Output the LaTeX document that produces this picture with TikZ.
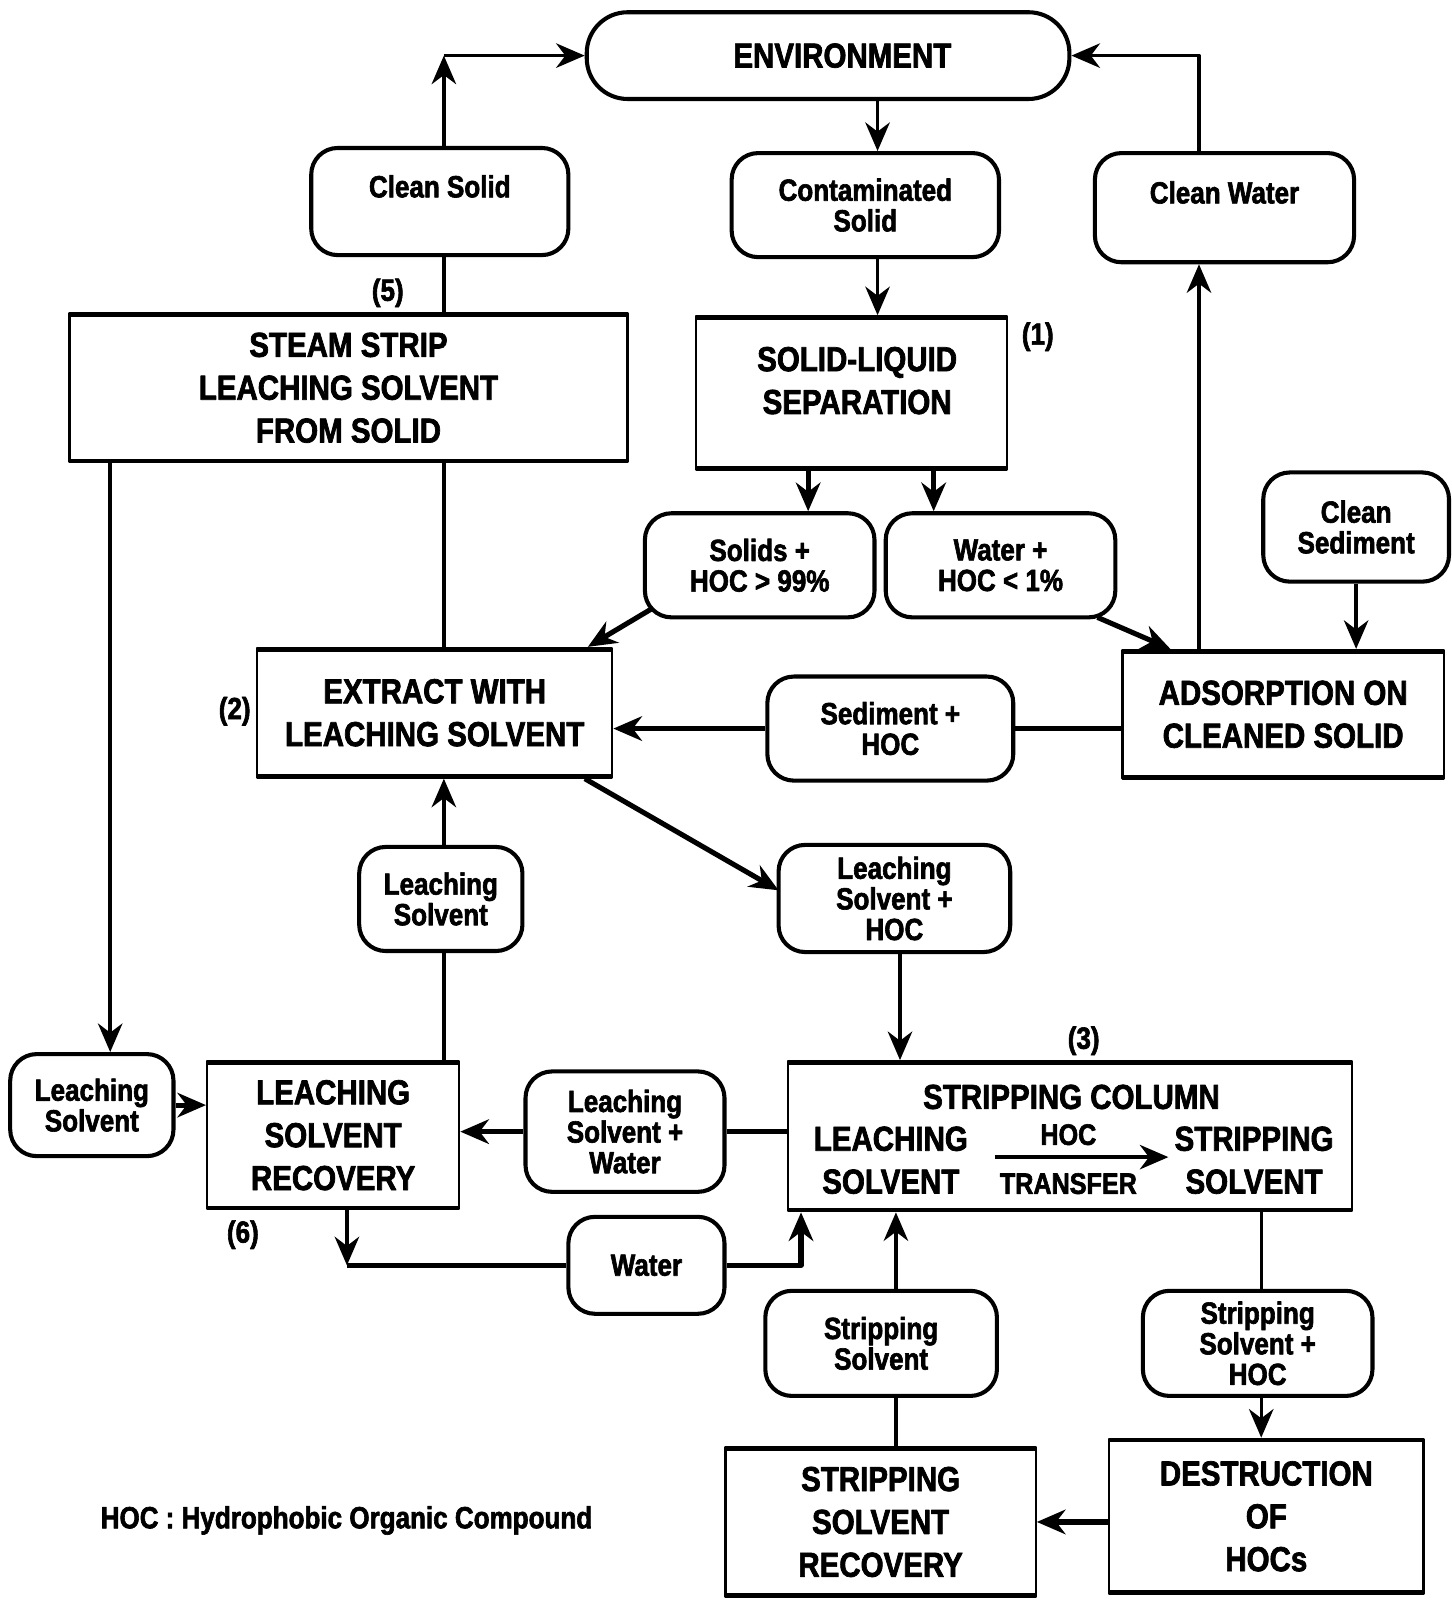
\documentclass[tikz,border=0pt]{standalone}
\usepackage{fontspec}
\setmainfont{Liberation Sans}[UprightFont={* Bold},FakeStretch=0.85,FakeBold=2]
\usetikzlibrary{arrows.meta,calc}
\newcommand\BoxFont{\fontsize{34}{42}\selectfont}
\newcommand\LabFont{\fontsize{30}{30}\selectfont}
\newcommand\SmallBoxFont{\fontsize{29}{30}\selectfont}
\begin{document}
\begin{tikzpicture}[x=1pt,y=-1pt,line width=3.4pt,line join=round,
  rbox/.style={draw,line width=4pt,rounded corners=26pt,inner sep=0pt,align=center,font=\LabFont},
  pbox/.style={draw,line width=2.2pt,inner sep=0pt,align=center,font=\BoxFont,
    path picture={\draw[line width=7pt] (path picture bounding box.north west) -- (path picture bounding box.north east)
      (path picture bounding box.south west) -- (path picture bounding box.south east);}},
  arr/.style={-{Stealth[length=28pt,width=24pt,inset=9pt]}},
  heavyline/.style={line width=5pt},
  num/.style={font=\LabFont,inner sep=0pt},
  txt/.style={font=\BoxFont,align=center,inner sep=0pt}]
\path[use as bounding box,fill=white] (0,0) rectangle (1422,1568);

% guide coordinates
\coordinate (x108) at (108,0);
\coordinate (x340) at (340,0);
\coordinate (x435) at (435,0);
\coordinate (x785) at (785,0);
\coordinate (x792) at (792,0);
\coordinate (x860) at (860,0);
\coordinate (x878) at (878,0);
\coordinate (x880) at (882,0);
\coordinate (x915) at (915,0);
\coordinate (x1175) at (1175,0);
\coordinate (x1236) at (1236,0);

% nodes
\node[rbox,minimum width=473,minimum height=85,rounded corners=40pt,font=\BoxFont] (env) at (811.5,54.5) {\hspace*{28pt}ENVIRONMENT};
\node[rbox,minimum width=252,minimum height=105] (cs) at (431,197.5) {Clean Solid\\\mbox{}};
\node[rbox,minimum width=262,minimum height=102] (cont) at (848,201) {Contaminated\\Solid};
\node[rbox,minimum width=254,minimum height=107] (cw) at (1200,203.5) {Clean Water\\\mbox{}};
\node[pbox,minimum width=547,minimum height=146] (steam) at (341.5,380) {STEAM STRIP\\LEACHING SOLVENT\\FROM SOLID};
\node[pbox,minimum width=305,minimum height=150] (sls) at (834.5,385) {};
\node[txt] (slsT) at (840,373) {SOLID-LIQUID\\SEPARATION};
\node[rbox,minimum width=225,minimum height=102] (solids) at (744.5,554) {Solids +\\HOC > 99\%};
\node[rbox,minimum width=225,minimum height=102] (wat) at (980.5,554) {Water +\\HOC < 1\%};
\node[rbox,minimum width=182,minimum height=107] (csed) at (1329,516.5) {Clean\\Sediment};
\node[pbox,minimum width=315,minimum height=126] (ads) at (1257.5,700) {ADSORPTION ON\\CLEANED SOLID};
\node[pbox,minimum width=348,minimum height=127] (ext) at (426,698.5) {EXTRACT WITH\\LEACHING SOLVENT};
\node[rbox,minimum width=241,minimum height=102] (sed) at (872.5,714) {Sediment +\\HOC};
\node[rbox,minimum width=227,minimum height=105] (lshoc) at (876.5,880.5) {Leaching\\Solvent +\\HOC};
\node[rbox,minimum width=160,minimum height=102] (lsmid) at (432,881) {Leaching\\Solvent};
\node[rbox,minimum width=160,minimum height=100] (lsleft) at (90,1083) {Leaching\\Solvent};
\node[pbox,minimum width=247,minimum height=145] (lsr) at (326.5,1112.5) {LEACHING\\SOLVENT\\RECOVERY};
\node[rbox,minimum width=195,minimum height=118] (lsw) at (612.5,1109) {Leaching\\Solvent +\\Water};
\node[rbox,minimum width=153,minimum height=95] (waterb) at (633.5,1240) {Water};
\node[pbox,minimum width=553,minimum height=147] (sc) at (1048.5,1113.5) {};
\node[txt] (scT) at (1050,1075) {STRIPPING COLUMN};
\node[txt] (scL) at (873,1137) {LEACHING\\SOLVENT};
\node[txt] (scR) at (1229,1137) {STRIPPING\\SOLVENT};
\node[txt,font=\SmallBoxFont] (scH) at (1047,1112) {HOC};
\node[txt,font=\SmallBoxFont] (scTr) at (1047,1160) {TRANSFER};
\node[rbox,minimum width=227,minimum height=103] (ss) at (863.5,1316.5) {Stripping\\Solvent};
\node[rbox,minimum width=225,minimum height=103] (sshoc) at (1232.5,1316.5) {Stripping\\Solvent +\\HOC};
\node[pbox,minimum width=304,minimum height=147] (ssr) at (863,1491.5) {STRIPPING\\SOLVENT\\RECOVERY};
\node[pbox,minimum width=308,minimum height=152] (dest) at (1241,1486) {DESTRUCTION\\OF\\HOCs};

% step numbers and legend
\node[num] (n5) at (380,287) {(5)};
\node[num] (n1) at (1017,330) {(1)};
\node[num] (n2) at (230,697) {(2)};
\node[num] (n6) at (238,1210) {(6)};
\node[num] (n3) at (1062,1020) {(3)};
\node[font=\LabFont,anchor=west,inner sep=0pt] (leg) at (97,1490) {HOC : Hydrophobic Organic Compound};

% connectors
\draw[arr] (cs.north -| x435) -- (x435 |- env.west);
\draw[arr] (x435 |- env.west) -- (env.west);
\draw[arr] (cw.north -| x1175) |- (env.east);
\draw[arr] (env.south -| x860) -- (cont.north -| x860);
\draw[arr] (cont.south -| x860) -- (sls.north -| x860);
\draw (cs.south -| x435) -- (steam.north -| x435);
\draw[arr,heavyline] (sls.south -| x792) -- (solids.north -| x792);
\draw[arr,heavyline] (sls.south -| x915) -- (wat.north -| x915);
\draw[arr,heavyline] ($(wat.south)+(95,-2)$) -- ($(ads.north west)+(48,0)$);
\draw[arr] (csed.south) -- (csed.south |- ads.north);
\draw[arr] (ads.north -| x1175) -- (cw.south -| x1175);
\draw[arr,heavyline] ($(solids.south west)+(8,-10)$) -- ($(ext.north east)+(-25,0)$);
\draw (steam.south -| x435) -- (ext.north -| x435);
\draw[heavyline] (ads.west |- sed.east) -- (sed.east);
\draw[arr,heavyline] (sed.west) -- (ext.east |- sed.west);
\draw[arr,heavyline] ($(ext.south east)+(-28,0)$) -- ($(lshoc.west)+(2,-8)$);
\draw[arr] (lshoc.south -| x880) -- (sc.north -| x880);
\draw[arr] (lsmid.north -| x435) -- (ext.south -| x435);
\draw (lsr.north -| x435) -- (lsmid.south -| x435);
\draw[arr] (steam.south -| x108) -- (lsleft.north -| x108);
\draw[arr,heavyline] (lsleft.east) -- (lsr.west |- lsleft.east);
\draw[heavyline] (sc.west |- lsw.east) -- (lsw.east);
\draw[arr,heavyline] (lsw.west) -- (lsr.east |- lsw.west);
\draw[arr] (x340 |- lsr.south) -- (x340 |- waterb.west);
\draw[heavyline] (x340 |- waterb.west) -- (waterb.west);
\draw[arr,heavyline] (waterb.east) -| (x785 |- sc.south);
\draw[arr] (ss.north -| x878) -- (sc.south -| x878);
\draw (ssr.north -| x878) -- (ss.south -| x878);
\draw (sc.south -| x1236) -- (sshoc.north -| x1236);
\draw[arr] (sshoc.south -| x1236) -- (dest.north -| x1236);
\draw[arr,heavyline] (dest.west |- ssr.east) -- (ssr.east);
\draw[arr] ($(scH.south)+(-72,10)$) -- ($(scH.south)+(98,10)$);
\end{tikzpicture}
\end{document}
